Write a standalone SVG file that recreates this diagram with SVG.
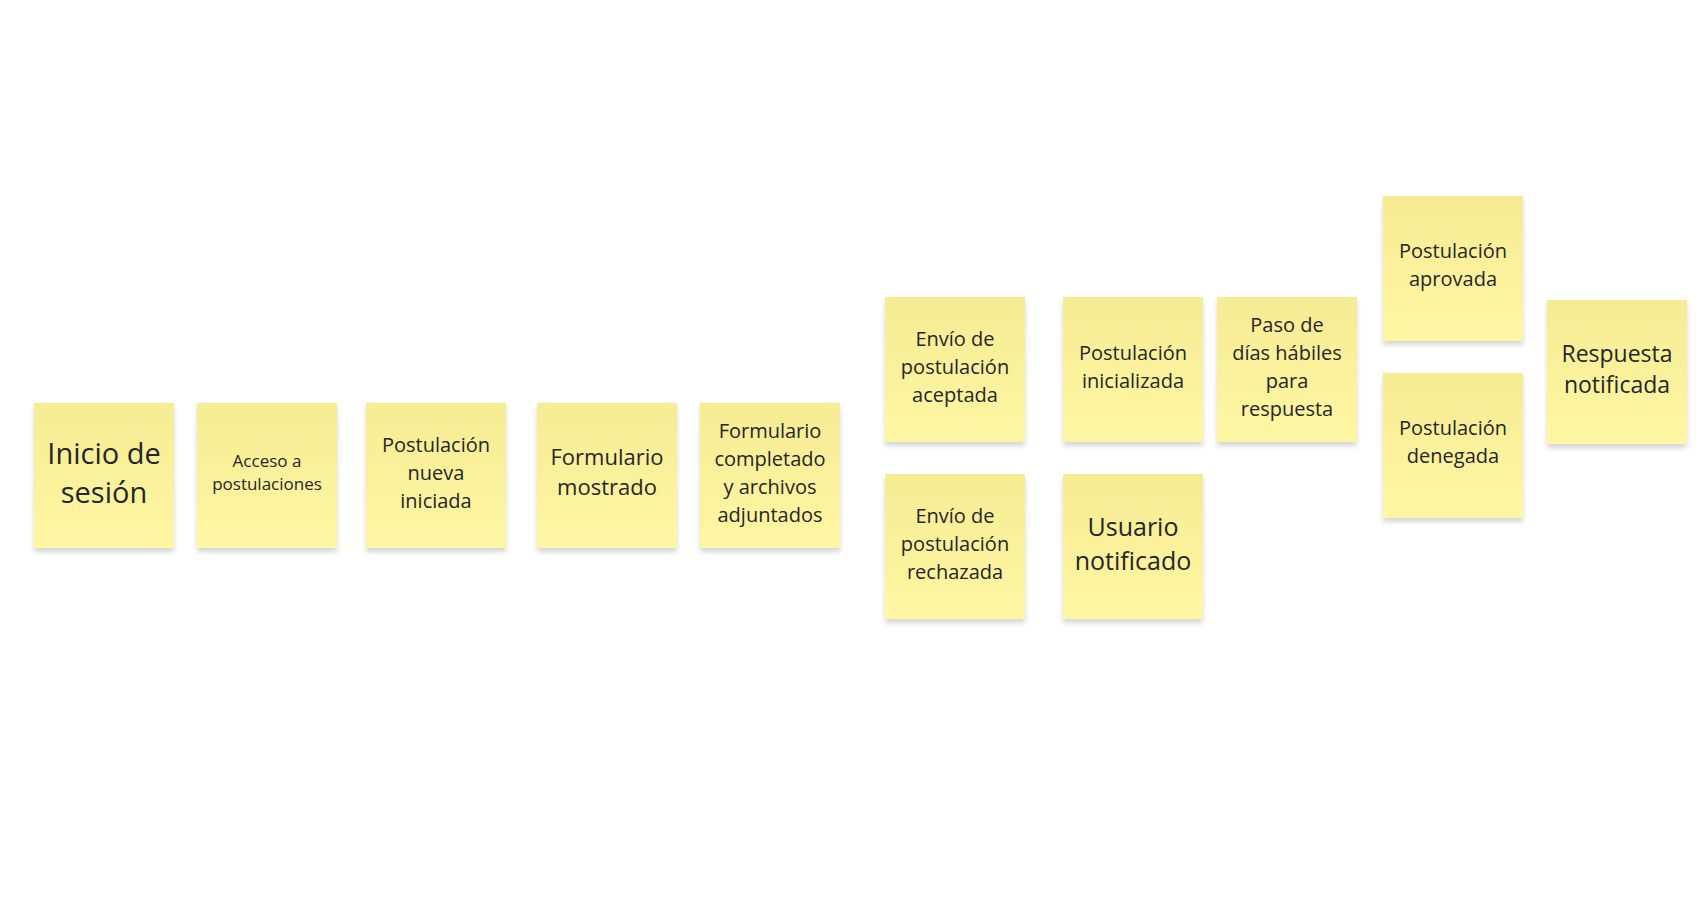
<svg xmlns="http://www.w3.org/2000/svg" width="1703" height="917" viewBox="0 0 1703 917">
<defs>
<linearGradient id="paper" x1="0" y1="0" x2="0" y2="1">
<stop offset="0" stop-color="#f6ec94"/>
<stop offset="1" stop-color="#fff6a3"/>
</linearGradient>
<filter id="sh" x="-10%" y="-10%" width="120%" height="125%">
<feDropShadow dx="0" dy="4" stdDeviation="2.5" flood-color="#000" flood-opacity="0.16"/>
</filter>
<style>
.note rect{fill:url(#paper);filter:url(#sh)}
.note text{font-family:"Open Sans","Noto Sans","DejaVu Sans",sans-serif;fill:#262626;text-anchor:middle}
.s20{font-size:20px}.s17{font-size:17px}.s22{font-size:22px}.s23{font-size:23px}.s25{font-size:25px}.s29{font-size:29px}
</style>
</defs>
<rect width="1703" height="917" fill="#ffffff"/>
<g id="connectors"></g>
<g transform="translate(0,-1.5)">
<g id="n1" class="note"><rect x="34" y="404.5" width="140" height="145"/><text class="s29"><tspan x="104" y="465">Inicio de</tspan><tspan x="104" y="504">sesión</tspan></text></g>
<g id="n2" class="note"><rect x="197" y="404.5" width="140" height="145"/><text class="s17"><tspan x="267" y="468.6">Acceso a</tspan><tspan x="267" y="491.6">postulaciones</tspan></text></g>
<g id="n3" class="note"><rect x="366" y="404.5" width="140" height="145"/><text class="s20"><tspan x="436" y="453.2">Postulación</tspan><tspan x="436" y="481.2">nueva</tspan><tspan x="436" y="509.2">iniciada</tspan></text></g>
<g id="n4" class="note"><rect x="537" y="404.5" width="140" height="145"/><text class="s22"><tspan x="607" y="466.9">Formulario</tspan><tspan x="607" y="496.9">mostrado</tspan></text></g>
<g id="n5" class="note"><rect x="700" y="404.5" width="140" height="145"/><text class="s20"><tspan x="770" y="439.2">Formulario</tspan><tspan x="770" y="467.2">completado</tspan><tspan x="770" y="495.2">y archivos</tspan><tspan x="770" y="523.2">adjuntados</tspan></text></g>
<g id="n6" class="note"><rect x="885" y="298.5" width="140" height="145"/><text class="s20"><tspan x="955" y="347.2">Envío de</tspan><tspan x="955" y="375.2">postulación</tspan><tspan x="955" y="403.2">aceptada</tspan></text></g>
<g id="n7" class="note"><rect x="885" y="475.5" width="140" height="145"/><text class="s20"><tspan x="955" y="524.2">Envío de</tspan><tspan x="955" y="552.2">postulación</tspan><tspan x="955" y="580.2">rechazada</tspan></text></g>
<g id="n8" class="note"><rect x="1063" y="298.5" width="140" height="145"/><text class="s20"><tspan x="1133" y="361.2">Postulación</tspan><tspan x="1133" y="389.2">inicializada</tspan></text></g>
<g id="n9" class="note"><rect x="1063" y="475.5" width="140" height="145"/><text class="s25"><tspan x="1133" y="537">Usuario</tspan><tspan x="1133" y="571">notificado</tspan></text></g>
<g id="n10" class="note"><rect x="1217" y="298.5" width="140" height="145"/><text class="s20"><tspan x="1287" y="333.2">Paso de</tspan><tspan x="1287" y="361.2">días hábiles</tspan><tspan x="1287" y="389.2">para</tspan><tspan x="1287" y="417.2">respuesta</tspan></text></g>
<g id="n11" class="note"><rect x="1383" y="197.5" width="140" height="145"/><text class="s20"><tspan x="1453" y="259.2">Postulación</tspan><tspan x="1453" y="287.2">aprovada</tspan></text></g>
<g id="n12" class="note"><rect x="1383" y="374.5" width="140" height="145"/><text class="s20"><tspan x="1453" y="436.2">Postulación</tspan><tspan x="1453" y="464.2">denegada</tspan></text></g>
<g id="n13" class="note"><rect x="1547" y="301.5" width="140" height="144"/><text class="s23"><tspan x="1617" y="363.8">Respuesta</tspan><tspan x="1617" y="394.8">notificada</tspan></text></g>
</g>
</svg>
